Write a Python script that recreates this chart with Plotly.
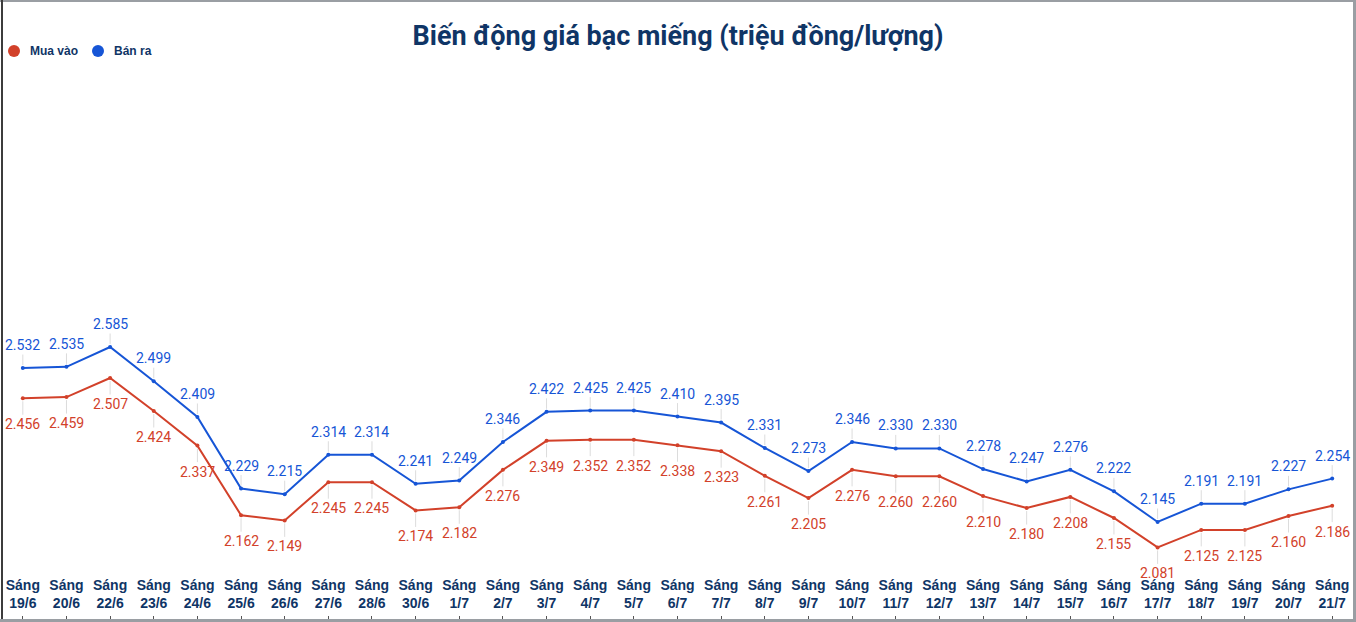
import plotly.graph_objects as go

dates = ["19/6", "20/6", "22/6", "23/6", "24/6", "25/6", "26/6", "27/6", "28/6", "30/6",
         "1/7", "2/7", "3/7", "4/7", "5/7", "6/7", "7/7", "8/7", "9/7", "10/7",
         "11/7", "12/7", "13/7", "14/7", "15/7", "16/7", "17/7", "18/7", "19/7", "20/7", "21/7"]
categories = ["Sáng<br>" + d for d in dates]

mua_vao = [2456, 2459, 2507, 2424, 2337, 2162, 2149, 2245, 2245, 2174,
           2182, 2276, 2349, 2352, 2352, 2338, 2323, 2261, 2205, 2276,
           2260, 2260, 2210, 2180, 2208, 2155, 2081, 2125, 2125, 2160, 2186]
ban_ra = [2532, 2535, 2585, 2499, 2409, 2229, 2215, 2314, 2314, 2241,
          2249, 2346, 2422, 2425, 2425, 2410, 2395, 2331, 2273, 2346,
          2330, 2330, 2278, 2247, 2276, 2222, 2145, 2191, 2191, 2227, 2254]
series_names = ["Mua vào", "Bán ra"]

RED = "#d2412a"
BLUE = "#1655d6"
NAVY = "#0f3566"

W, H = 1356, 622
ML, MR, MT, MB = 1, 2, 60, 7
PW, PH = W - ML - MR, H - MT - MB


def px_x(p):
    return (p - ML) / PW


def px_y(p):
    return (H - MB - p) / PH


def fmt(v):
    return f"{v:,}".replace(",", ".")


fig = go.Figure()
fig.add_trace(go.Scatter(x=categories, y=mua_vao, mode="lines+markers", name=series_names[0],
                         line=dict(color=RED, width=2), marker=dict(size=4, color=RED),
                         showlegend=False, hoverinfo="skip"))
fig.add_trace(go.Scatter(x=categories, y=ban_ra, mode="lines+markers", name=series_names[1],
                         line=dict(color=BLUE, width=2), marker=dict(size=4, color=BLUE),
                         showlegend=False, hoverinfo="skip"))
# helper trace for the tick-mark axis
fig.add_trace(go.Scatter(x=categories, y=ban_ra, xaxis="x2", mode="markers",
                         marker=dict(opacity=0), showlegend=False, hoverinfo="skip"))

annotations = []
for c, v in zip(categories, ban_ra):
    annotations.append(dict(x=c, y=v, xref="x", yref="y", text=fmt(v), showarrow=True,
                            ax=0, ay=-23, arrowhead=0, arrowwidth=1, arrowcolor="#dcdcdc",
                            standoff=3, font=dict(family="Roboto", size=14, color=BLUE)))
for c, v in zip(categories, mua_vao):
    annotations.append(dict(x=c, y=v, xref="x", yref="y", text=fmt(v), showarrow=True,
                            ax=0, ay=26, arrowhead=0, arrowwidth=1, arrowcolor="#dcdcdc",
                            standoff=3, font=dict(family="Roboto", size=14, color=RED)))

# legend (manual: dot + label)
legend_items = [(series_names[0], RED, 14, 28), (series_names[1], BLUE, 98, 112)]
legend_y = 51
shapes = []
for name, col, dot_x, text_x in legend_items:
    shapes.append(dict(type="circle", xref="paper", yref="paper",
                       xsizemode="pixel", ysizemode="pixel",
                       xanchor=px_x(dot_x), yanchor=px_y(legend_y),
                       x0=-6, x1=6, y0=-6, y1=6,
                       fillcolor=col, line=dict(width=0)))
    annotations.append(dict(x=px_x(text_x), y=px_y(legend_y), xref="paper", yref="paper",
                            xanchor="left", yanchor="middle", showarrow=False, text=name,
                            font=dict(family="Liberation Sans", size=12, color=NAVY, weight="bold")))

y_bottom_px = 572
shapes += [
    dict(type="line", xref="paper", yref="paper", x0=px_x(0), x1=px_x(W), y0=px_y(1), y1=px_y(1),
         line=dict(color="#9a9ea3", width=2)),
    dict(type="line", xref="paper", yref="paper", x0=px_x(2), x1=px_x(2), y0=px_y(0), y1=px_y(H),
         line=dict(color="#3c3c3c", width=2)),
    dict(type="line", xref="paper", yref="paper", x0=px_x(1354.5), x1=px_x(1354.5), y0=px_y(0), y1=px_y(H),
         line=dict(color="#9a9ea3", width=3)),
    dict(type="line", xref="paper", yref="paper", x0=px_x(0), x1=px_x(W), y0=px_y(620.5), y1=px_y(620.5),
         line=dict(color="#9a9ea3", width=3)),
]

fig.update_layout(
    width=W, height=H,
    margin=dict(l=ML, r=MR, t=MT, b=MB),
    paper_bgcolor="white", plot_bgcolor="white",
    title=dict(text="<b>Biến động giá bạc miếng (triệu đồng/lượng)</b>",
               font=dict(family="Roboto", size=27, color=NAVY),
               x=0.5, xanchor="center", y=1 - 36 / H, yanchor="middle"),
    showlegend=False,
    xaxis=dict(type="category", range=[-0.5, len(categories) - 0.5], showgrid=False,
               showline=False, zeroline=False, ticks="", ticklabelstandoff=3,
               tickfont=dict(family="Liberation Sans", size=14, color=NAVY, weight="bold")),
    xaxis2=dict(type="category", overlaying="x", anchor="free", position=0, side="bottom",
                range=[-0.5, len(categories) - 0.5], showgrid=False, showline=False,
                showticklabels=False, ticks="outside", ticklen=4, tickcolor="#555", tickwidth=1),
    yaxis=dict(range=[2019.2, 3306.6], domain=[px_y(y_bottom_px), 1], visible=False,
               showgrid=False, zeroline=False),
    annotations=annotations,
    shapes=shapes,
)

fig.write_html("out.html")
